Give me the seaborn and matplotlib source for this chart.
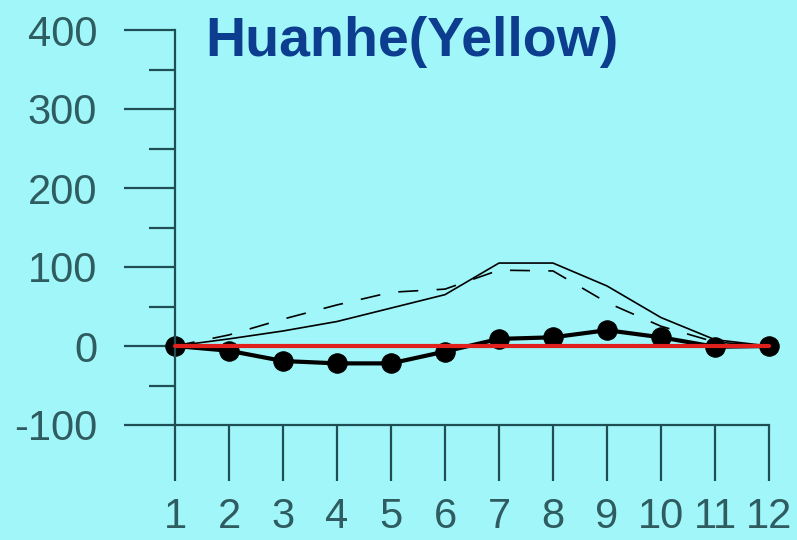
import numpy as np
import pandas as pd
import seaborn as sns
import matplotlib.pyplot as plt
from matplotlib.ticker import MultipleLocator

# monthly values
months = list(range(1, 13))
solid_vals = [0, 9, 19, 31, 48, 65, 105, 105, 76, 36, 8, 0]
dashed_vals = [0, 14, 34, 52, 68, 72, 96, 95, 55, 25, 5, 0]
diff_vals = [0, -6, -19, -22, -22, -7, 9, 11, 20, 11, -1, 0]
zero_vals = [0] * 12
month_labels = [str(m) for m in months]

df = pd.DataFrame({"month": months, "solid": solid_vals, "dashed": dashed_vals,
                   "diff": diff_vals, "zero": zero_vals})

sns.set_theme(style="white")
plt.rcParams['font.family'] = ['Liberation Sans', 'DejaVu Sans']
plt.rcParams['axes.unicode_minus'] = False

bg = "#a0f6f8"
axcol = "#1f4f55"
txtcol = "#2f5c60"

fig = plt.figure(figsize=(7.97, 5.40), dpi=100, facecolor=bg)
ax = fig.add_axes([175/797, 1-425/540, (769-175)/797, (425-30)/540])
ax.set_facecolor(bg)

sns.lineplot(data=df, x="month", y="solid", ax=ax, color="black", lw=1.2)
sns.lineplot(data=df, x="month", y="dashed", ax=ax, color="black", lw=1.2,
             linestyle=(0, (12, 11)))
sns.lineplot(data=df, x="month", y="diff", ax=ax, color="black", lw=3,
             marker="o", markersize=14, markeredgecolor="black", clip_on=False)
sns.lineplot(data=df, x="month", y="zero", ax=ax, color="#e0201c", lw=3,
             clip_on=False, zorder=5)

ax.set_xlim(1, 12)
ax.set_ylim(-100, 400)
ax.set_xticks(months)
ax.set_xticklabels(month_labels)
ax.yaxis.set_major_locator(MultipleLocator(100))
ax.yaxis.set_minor_locator(MultipleLocator(50))
ax.set_xlabel("")
ax.set_ylabel("")

for s in ["top", "right"]:
    ax.spines[s].set_visible(False)
for s in ["left", "bottom"]:
    ax.spines[s].set_color(axcol)
    ax.spines[s].set_linewidth(1.6)

ax.tick_params(axis="y", which="major", direction="out", length=37, width=1.6,
               color=axcol, pad=19, labelsize=30, labelcolor=txtcol, left=True)
ax.tick_params(axis="y", which="minor", direction="out", length=19, width=1.6,
               color=axcol, left=True)
ax.tick_params(axis="x", which="major", direction="out", length=40, width=1.6,
               color=axcol, pad=12, labelsize=30, labelcolor=txtcol, bottom=True)

fig.text(205/797, 1-42/540, "Huanhe(Yellow)", fontsize=40, fontweight="bold",
         color="#0c3d8e", ha="left", va="center")

fig.savefig("out.png", dpi=100, facecolor=bg)
